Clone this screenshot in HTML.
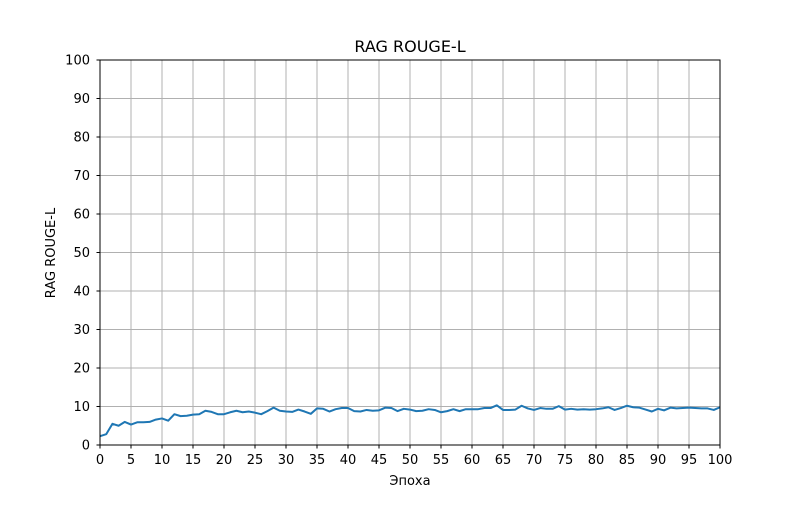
<!DOCTYPE html>
<html><head><meta charset="utf-8"><style>
body{margin:0;background:#fff;}
svg text{font-family:"DejaVu Sans","Liberation Sans",sans-serif;}
</style></head><body>
<svg id="chart" width="800" height="500">
<rect width="800" height="500" fill="#fff"/>
<g id="grid"></g>
<path id="line" fill="none" stroke="#1f77b4" stroke-width="2" stroke-linejoin="round"/>
<rect x="100" y="60" width="620" height="385" fill="none" stroke="#000" stroke-width="1"/>
<g id="ticks"></g>
<text x="410" y="52" font-size="16" text-anchor="middle">RAG ROUGE-L</text>
<text x="410" y="485" font-size="13" text-anchor="middle">Эпоха</text>
<text transform="translate(55,253) rotate(-90)" font-size="13" text-anchor="middle">RAG ROUGE-L</text>
</svg>
<script>
const rougeValues=[2.3,2.8,5.5,5.0,6.0,5.3,5.9,5.9,6.0,6.6,6.9,6.3,8.0,7.5,7.6,7.9,8.0,8.9,8.6,8.0,8.0,8.5,8.9,8.5,8.7,8.4,8.0,8.8,9.7,8.9,8.7,8.6,9.2,8.7,8.1,9.5,9.4,8.7,9.3,9.6,9.6,8.8,8.7,9.1,8.9,9.0,9.7,9.6,8.8,9.4,9.2,8.8,8.9,9.3,9.1,8.5,8.8,9.3,8.8,9.3,9.3,9.3,9.6,9.6,10.3,9.1,9.1,9.2,10.2,9.5,9.1,9.6,9.4,9.4,10.1,9.2,9.4,9.2,9.3,9.2,9.3,9.5,9.8,9.1,9.6,10.2,9.8,9.7,9.2,8.7,9.4,9.0,9.7,9.5,9.6,9.7,9.6,9.5,9.5,9.1,9.8];
const xTicks=[0,5,10,15,20,25,30,35,40,45,50,55,60,65,70,75,80,85,90,95,100];
const yTicks=[0,10,20,30,40,50,60,70,80,90,100];
const NS='http://www.w3.org/2000/svg';
const xs=v=>100+v*6.2, ys=v=>445-v*3.85;
const grid=document.getElementById('grid'), ticks=document.getElementById('ticks');
function mk(tag,attrs,parent){const e=document.createElementNS(NS,tag);for(const k in attrs)e.setAttribute(k,attrs[k]);parent.appendChild(e);return e;}
xTicks.forEach(t=>{
 const g=mk('line',{x1:xs(t),x2:xs(t),y1:60,y2:445,stroke:'#b0b0b0','stroke-width':1},grid);
 
 
 mk('line',{x1:xs(t),x2:xs(t),y1:445,y2:448.5,stroke:'#000'},ticks);
 const tx=mk('text',{x:xs(t),y:464,'font-size':13,'text-anchor':'middle'},ticks);tx.textContent=t;
 
 
});
yTicks.forEach(t=>{
 const g=mk('line',{x1:100,x2:720,y1:ys(t),y2:ys(t),stroke:'#b0b0b0','stroke-width':1},grid);
 
 
 mk('line',{x1:96.5,x2:100,y1:ys(t),y2:ys(t),stroke:'#000'},ticks);
 const tx=mk('text',{x:90,y:ys(t)+4.5,'font-size':13,'text-anchor':'end'},ticks);tx.textContent=t;
 
 
});
document.getElementById('line').setAttribute('d',rougeValues.map((v,i)=>(i?'L':'M')+xs(i)+','+ys(v)).join(''));
</script>
</body></html>
